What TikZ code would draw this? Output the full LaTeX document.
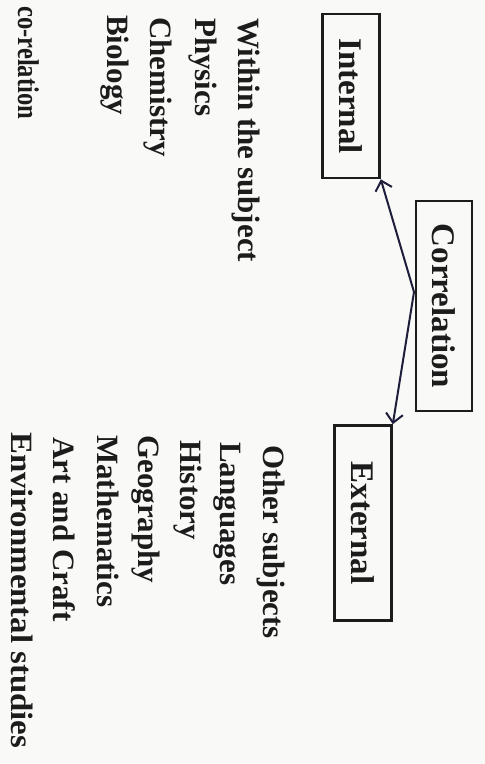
\documentclass[tikz,border=0pt]{standalone}
\usepackage{fontspec}
\setmainfont{Liberation Serif}
\newfontfamily\bodyfont[FakeStretch=0.82]{Liberation Serif}
\newfontfamily\widefont[FakeStretch=1.06]{Liberation Serif}
\usetikzlibrary{arrows.meta}
\definecolor{ink}{HTML}{1C1C1C}
\definecolor{pen}{HTML}{1E1E3C}
\definecolor{paper}{HTML}{F9F9F7}
\begin{document}
\begin{tikzpicture}[x=1pt,y=-1pt,
  box/.style={draw=ink, line width=2.6pt, rotate=-90, inner sep=0pt, text=ink,
    font=\fontsize{33}{40}\selectfont\bfseries},
  item/.style={rotate=-90, anchor=base west, inner sep=0pt, text=ink,
    font=\fontsize{31}{37}\selectfont\bfseries},
  link/.style={draw=pen, line width=2pt,
    -{Straight Barb[length=9pt,width=17pt,line width=2pt]}}]
\fill[paper] (0,0) rectangle (485,764);
\useasboundingbox (0,0) rectangle (485,764);
% boxes
\node[box, minimum width=164pt, minimum height=57pt] (int) at (351,96) {Internal};
\node[box, minimum width=210pt, minimum height=56pt] (cor) at (444,306) {Correlation};
\node[box, minimum width=195pt, minimum height=57pt] (ext) at (363,523) {External};
% connectors
\coordinate (hub) at (414,292);
\draw[link] (hub) -- (int.north east);
\draw[link] (hub) -- (ext.north west);
% internal list
\node[item] (l1) at (238,18) {Within the subject};
\node[item] (l2) at (195,18) {Physics};
\node[item] (l3) at (150,17) {Chemistry};
\node[item] (l4) at (107,15) {Biology};
\node[item, font=\bodyfont\fontsize{30}{36}\selectfont\bfseries] (l5) at (18,6) {co-relation};
% external list
\node[item] (r1) at (263,445) {Other subjects};
\node[item] (r2) at (220,442) {Languages};
\node[item] (r3) at (180,440) {History};
\node[item] (r4) at (138,435) {Geography};
\node[item] (r5) at (97,435) {Mathematics};
\node[item] (r6) at (53,437) {Art and Craft};
\node[item, font=\widefont\fontsize{31}{37}\selectfont\bfseries] (r7) at (12,432) {Environmental studies};
\end{tikzpicture}
\end{document}
